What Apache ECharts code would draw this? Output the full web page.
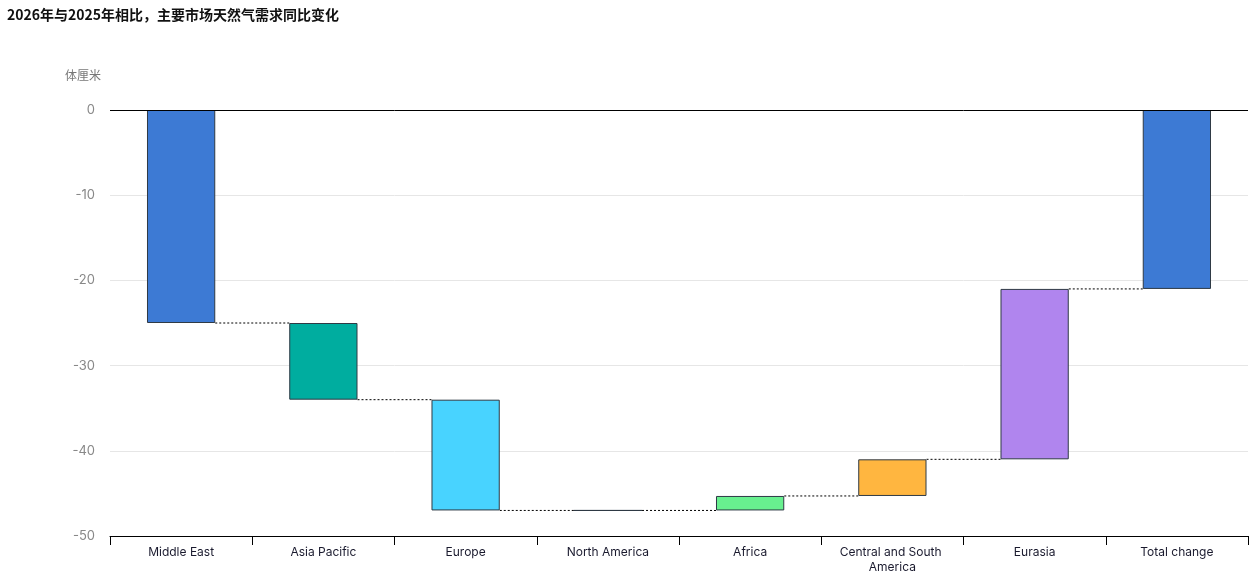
<!DOCTYPE html>
<html>
<head>
<meta charset="utf-8">
<script src="https://cdn.jsdelivr.net/npm/echarts@6/dist/echarts.min.js"></script>
<style>
  html, body { margin: 0; padding: 0; background: #fff; }
  #chart { width: 1258px; height: 578px; }
</style>
</head>
<body>
<div id="chart"></div>
<script>
// 区域与变化量（体厘米）
const categories = ['Middle East', 'Asia Pacific', 'Europe', 'North America', 'Africa', 'Central and South America', 'Eurasia', 'Total change'];
const deltas = [-25, -9, -13, 0, 1.7, 4.3, 20];
const totalChange = -21;
const barColors = ['#3d7ad4', '#00ad9f', '#48d3ff', '#5f6b6b', '#68f08f', '#ffb640', '#b085ee', '#3d7ad4'];
const yTicks = [0, -10, -20, -30, -40, -50];

// 累计起止值
const starts = [];
const ends = [];
let cum = 0;
for (let i = 0; i < deltas.length; i++) {
  starts.push(cum);
  cum += deltas[i];
  ends.push(cum);
}
starts.push(0);
ends.push(totalChange);

// 透明底座 + 可见柱
const baseData = [];
const barData = [];
for (let i = 0; i < categories.length; i++) {
  const top = Math.max(starts[i], ends[i]);
  const bottom = Math.min(starts[i], ends[i]);
  baseData.push(top);
  barData.push({
    value: bottom - top,
    itemStyle: { color: barColors[i] }
  });
}

// 连接虚线
const linkData = [];
for (let i = 0; i < categories.length - 1; i++) {
  linkData.push([i, ends[i]]);
}

const font = 'Inter, "Noto Sans CJK SC", sans-serif';
const chart = echarts.init(document.getElementById('chart'));
const barWidthRatio = 0.48;

chart.setOption({
  animation: false,
  title: {
    text: '2026年与2025年相比，主要市场天然气需求同比变化',
    left: 2,
    top: 3,
    textStyle: { fontFamily: '"Noto Sans CJK SC", sans-serif', fontSize: 14, fontWeight: 'bold', color: '#111' }
  },
  graphic: [{
    type: 'text',
    left: 65,
    top: 69,
    style: { text: '体厘米', font: '12px "Noto Sans CJK SC", sans-serif', fill: '#777' }
  }],
  grid: { left: 110, right: 10, top: 110, bottom: 42 },
  xAxis: {
    type: 'category',
    data: categories,
    position: 'bottom',
    axisLine: { onZero: false, lineStyle: { color: '#000', width: 1 } },
    axisTick: { show: true, interval: 0, length: 9, lineStyle: { color: '#000' } },
    axisLabel: {
      interval: 0,
      color: '#1a1a2e', fontSize: 12, fontFamily: font, margin: 9,
      width: 130, overflow: 'break', lineHeight: 15
    }
  },
  yAxis: {
    type: 'value',
    min: -50,
    max: 0,
    interval: 10,
    axisLine: { show: false },
    axisTick: { show: false },
    axisLabel: {
      color: '#888', fontSize: 13, fontFamily: font, margin: 15,
      formatter: v => (yTicks.indexOf(v) >= 0 ? String(v) : '')
    },
    splitLine: { lineStyle: { color: '#e6e6e6', width: 1 } }
  },
  series: [
    {
      type: 'bar',
      stack: 'wf',
      data: baseData,
      barWidth: (barWidthRatio * 100) + '%',
      itemStyle: { color: 'transparent', borderColor: 'transparent' },
      silent: true,
      markLine: {
        silent: true,
        symbol: 'none',
        label: { show: false },
        lineStyle: { color: '#000', type: 'solid', width: 1 },
        data: [{ yAxis: 0 }]
      }
    },
    {
      type: 'bar',
      stack: 'wf',
      data: barData,
      barWidth: (barWidthRatio * 100) + '%',
      itemStyle: { borderColor: '#2f3a45', borderWidth: 1 }
    },
    {
      type: 'custom',
      data: linkData,
      z: 5,
      renderItem: function (params, api) {
        const i = api.value(0);
        const level = api.value(1);
        const band = api.size([1, 0])[0];
        const p1 = api.coord([i, level]);
        const p2 = api.coord([i + 1, level]);
        const half = band * barWidthRatio / 2;
        return {
          type: 'line',
          shape: { x1: p1[0] + half, y1: p1[1], x2: p2[0] - half, y2: p2[1] },
          style: { stroke: '#000', lineWidth: 1, lineDash: [2, 2] }
        };
      }
    }
  ]
});
</script>
</body>
</html>
